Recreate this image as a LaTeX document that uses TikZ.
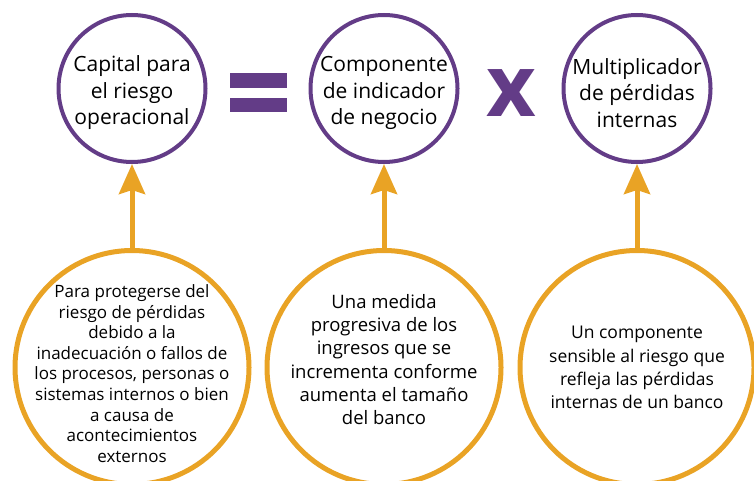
\documentclass[tikz,border=0pt]{standalone}
\usepackage{fontspec}
\setmainfont{Open Sans}
\usetikzlibrary{arrows.meta, positioning}
\definecolor{riskpurple}{HTML}{633C87}
\definecolor{riskorange}{HTML}{E9A325}
\newcommand{\toppad}{\rule{0pt}{25pt}}

\begin{document}
\begin{tikzpicture}[x=1pt, y=-1pt,
    topcircle/.style={circle, draw=riskpurple, line width=4pt, minimum size=147pt,
      inner sep=-20pt, align=center, font=\fontsize{21}{26.5}\selectfont},
    basecircle/.style={circle, draw=riskorange, line width=5pt, minimum size=234pt,
      inner sep=-20pt, align=center},
    uparrow/.style={draw=riskorange, line width=5pt,
      -{Stealth[length=30pt, width=26pt, inset=4pt]}}]
  \useasboundingbox (0,0) rectangle (754,481);

  % formula row
  \node[topcircle] (capital) at (132,88.5) {\toppad Capital para\\el riesgo\\operacional};
  \node[topcircle] (indicador) at (384,88.5) {\toppad Componente\\de indicador\\de negocio};
  \node[topcircle] (multiplicador) at (637,88.5) {\toppad Multiplicador\\de pérdidas\\internas};

  \fill[riskpurple] (230,73) rectangle (287,88);
  \fill[riskpurple] (230,98) rectangle (287,112);
  \node[text=riskpurple, inner sep=0pt, font=\fontsize{86}{86}\selectfont\bfseries] (times) at (511.5,93.5) {x};

  % explanations
  \node[basecircle, font=\fontsize{17}{20.6}\selectfont, below=84pt of capital] (capitaltxt) {\rule{0pt}{25pt}Para protegerse del\\riesgo de pérdidas\\debido a la\\inadecuación o fallos de\\los procesos, personas o\\sistemas internos o bien\\a causa de\\acontecimientos\\externos};
  \node[basecircle, font=\fontsize{18.5}{23.2}\selectfont, below=84pt of indicador] (indicadortxt) {Una medida\\progresiva de los\\ingresos que se\\incrementa conforme\\aumenta el tamaño\\del banco\rule[-16pt]{0pt}{0pt}};
  \node[basecircle, font=\fontsize{17.5}{23.3}\selectfont, below=84pt of multiplicador] (multiplicadortxt) {Un componente\\sensible al riesgo que\\refleja las pérdidas\\internas de un banco};

  \draw[uparrow] (capitaltxt) -- (capital);
  \draw[uparrow] (indicadortxt) -- (indicador);
  \draw[uparrow] (multiplicadortxt) -- (multiplicador);
\end{tikzpicture}
\end{document}
